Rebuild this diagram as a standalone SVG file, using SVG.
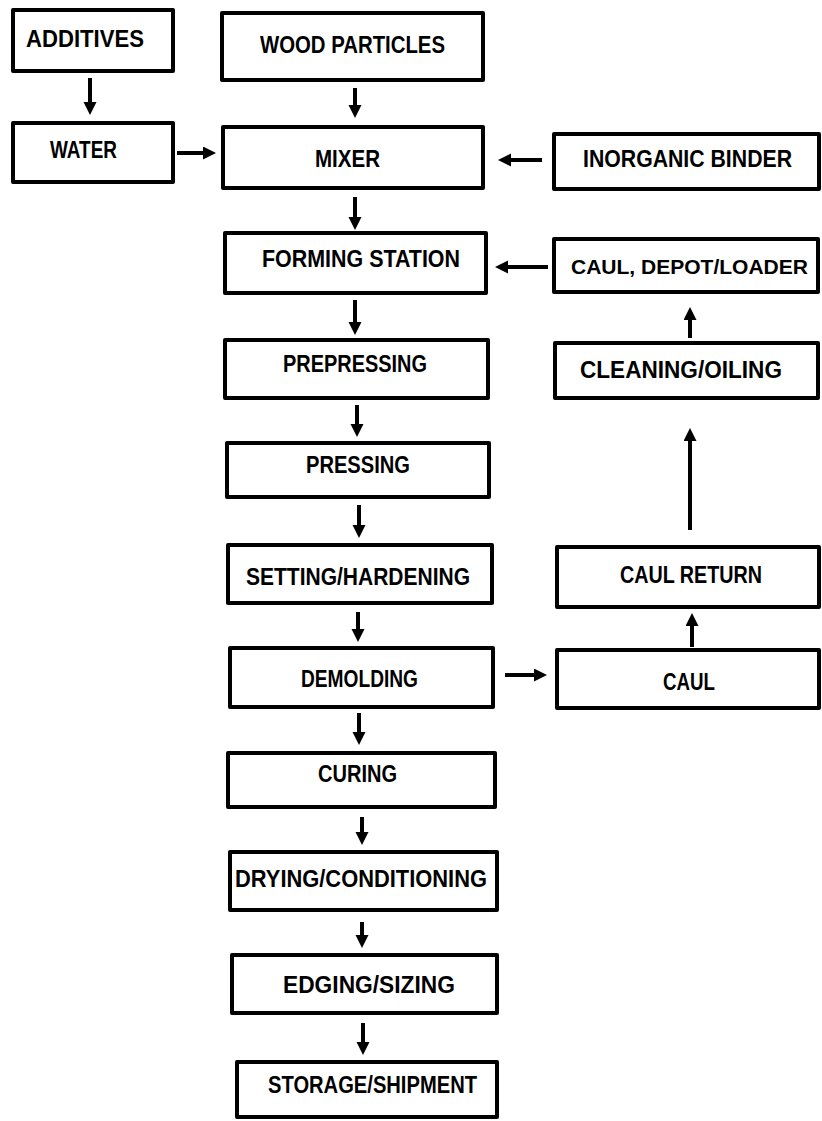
<svg xmlns="http://www.w3.org/2000/svg" width="822" height="1121" viewBox="0 0 822 1121">
<style>
.box{fill:#fff;stroke:#000;stroke-width:4;stroke-linejoin:round}
.lbl{font-family:"Liberation Sans",Arial,sans-serif;font-weight:bold;font-size:23px;fill:#000}
.sm{font-size:21px}
.ln{stroke:#000;stroke-width:4;fill:none;marker-end:url(#ah)}
</style>
<defs>
<marker id="ah" markerUnits="userSpaceOnUse" markerWidth="14" markerHeight="14" refX="4" refY="6.5" orient="auto">
<path d="M0,0 L13,6.5 L0,13 z" fill="#000"/>
</marker>
</defs>
<rect width="822" height="1121" fill="#fff"/>
<g id="n-additives"><rect class="box" x="13" y="10" width="160" height="61"/><text class="lbl" x="26" y="47" textLength="118" lengthAdjust="spacingAndGlyphs">ADDITIVES</text></g>
<g id="n-wood"><rect class="box" x="222" y="13" width="261" height="67"/><text class="lbl" x="260" y="53" textLength="185" lengthAdjust="spacingAndGlyphs">WOOD PARTICLES</text></g>
<g id="n-water"><rect class="box" x="13" y="123" width="160" height="59"/><text class="lbl" x="50" y="158" textLength="67" lengthAdjust="spacingAndGlyphs">WATER</text></g>
<g id="n-mixer"><rect class="box" x="223" y="127" width="260" height="61"/><text class="lbl" x="315" y="167" textLength="65" lengthAdjust="spacingAndGlyphs">MIXER</text></g>
<g id="n-binder"><rect class="box" x="554" y="134" width="265" height="55"/><text class="lbl" x="583" y="167" textLength="209" lengthAdjust="spacingAndGlyphs">INORGANIC BINDER</text></g>
<g id="n-forming"><rect class="box" x="225" y="233" width="261" height="60"/><text class="lbl" x="262" y="267" textLength="198" lengthAdjust="spacingAndGlyphs">FORMING STATION</text></g>
<g id="n-depot"><rect class="box" x="554" y="239" width="264" height="53"/><text class="lbl sm" x="571" y="274" textLength="237" lengthAdjust="spacingAndGlyphs">CAUL, DEPOT/LOADER</text></g>
<g id="n-prepressing"><rect class="box" x="225" y="340" width="263" height="58"/><text class="lbl" x="283" y="372" textLength="144" lengthAdjust="spacingAndGlyphs">PREPRESSING</text></g>
<g id="n-cleaning"><rect class="box" x="555" y="343" width="263" height="55"/><text class="lbl" x="580" y="378" textLength="202" lengthAdjust="spacingAndGlyphs">CLEANING/OILING</text></g>
<g id="n-pressing"><rect class="box" x="227" y="443" width="262" height="54"/><text class="lbl" x="306" y="473" textLength="104" lengthAdjust="spacingAndGlyphs">PRESSING</text></g>
<g id="n-setting"><rect class="box" x="228" y="545" width="264" height="58"/><text class="lbl" x="246" y="585" textLength="224" lengthAdjust="spacingAndGlyphs">SETTING/HARDENING</text></g>
<g id="n-caulreturn"><rect class="box" x="557" y="547" width="262" height="60"/><text class="lbl" x="620" y="583" textLength="142" lengthAdjust="spacingAndGlyphs">CAUL RETURN</text></g>
<g id="n-demolding"><rect class="box" x="230" y="648" width="263" height="59"/><text class="lbl" x="301" y="687" textLength="117" lengthAdjust="spacingAndGlyphs">DEMOLDING</text></g>
<g id="n-caul"><rect class="box" x="557" y="650" width="262" height="58"/><text class="lbl" x="663" y="690" textLength="52" lengthAdjust="spacingAndGlyphs">CAUL</text></g>
<g id="n-curing"><rect class="box" x="228" y="753" width="267" height="54"/><text class="lbl" x="318" y="782" textLength="79" lengthAdjust="spacingAndGlyphs">CURING</text></g>
<g id="n-drying"><rect class="box" x="230" y="852" width="267" height="58"/><text class="lbl" x="235" y="887" textLength="252" lengthAdjust="spacingAndGlyphs">DRYING/CONDITIONING</text></g>
<g id="n-edging"><rect class="box" x="232" y="955" width="265" height="58"/><text class="lbl" x="283" y="993" textLength="172" lengthAdjust="spacingAndGlyphs">EDGING/SIZING</text></g>
<g id="n-storage"><rect class="box" x="237" y="1062" width="260" height="55"/><text class="lbl" x="268" y="1093" textLength="209" lengthAdjust="spacingAndGlyphs">STORAGE/SHIPMENT</text></g>
<g id="connectors">
<line class="ln" x1="90" y1="78" x2="90" y2="106"/>
<line class="ln" x1="355" y1="88" x2="355" y2="109"/>
<line class="ln" x1="177" y1="153" x2="207" y2="153"/>
<line class="ln" x1="542" y1="160" x2="507" y2="160"/>
<line class="ln" x1="355" y1="197" x2="355" y2="221"/>
<line class="ln" x1="548" y1="267" x2="504" y2="267"/>
<line class="ln" x1="355" y1="300" x2="355" y2="326"/>
<line class="ln" x1="690" y1="338" x2="690" y2="316"/>
<line class="ln" x1="357" y1="405" x2="357" y2="428"/>
<line class="ln" x1="359" y1="505" x2="359" y2="529"/>
<line class="ln" x1="690" y1="530" x2="690" y2="437"/>
<line class="ln" x1="358" y1="612" x2="358" y2="633"/>
<line class="ln" x1="692" y1="647" x2="692" y2="622"/>
<line class="ln" x1="505" y1="675" x2="538" y2="675"/>
<line class="ln" x1="359" y1="713" x2="359" y2="736"/>
<line class="ln" x1="362" y1="817" x2="362" y2="836"/>
<line class="ln" x1="362" y1="922" x2="362" y2="939"/>
<line class="ln" x1="363" y1="1023" x2="363" y2="1046"/>
</g>
</svg>
